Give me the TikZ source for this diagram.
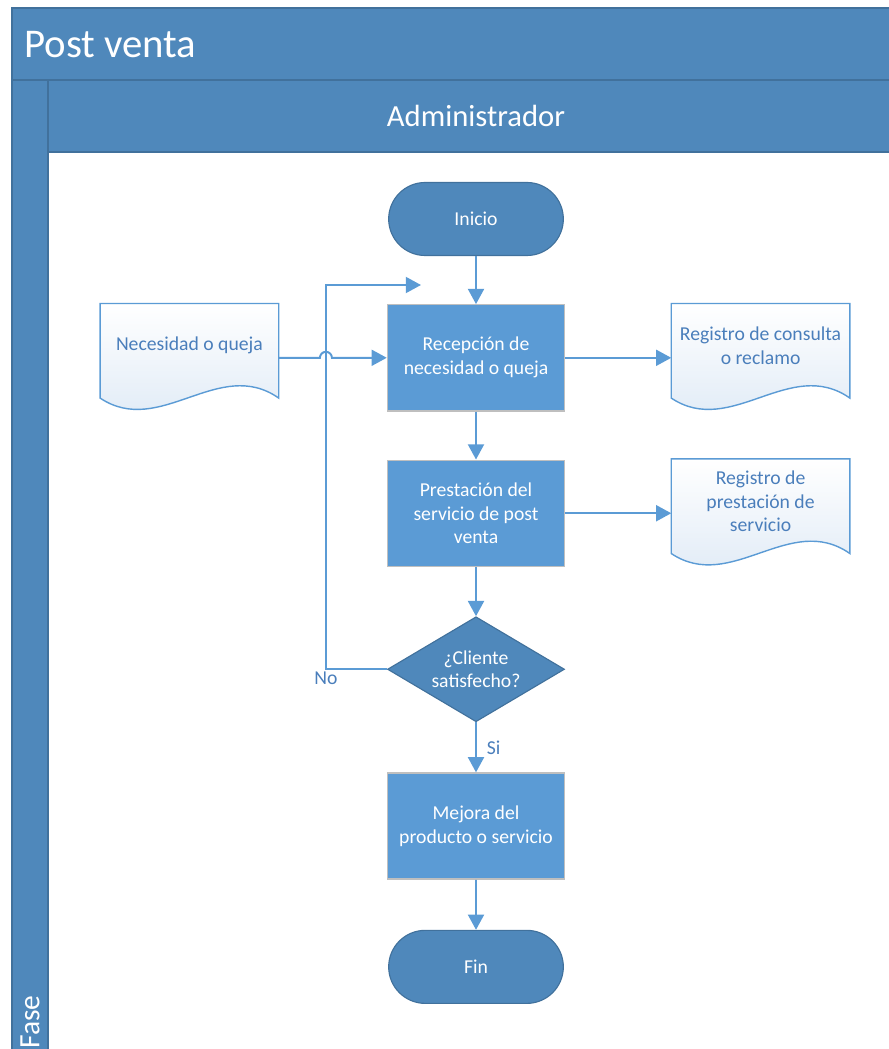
\documentclass[tikz,border=0pt]{standalone}
\usepackage{fontspec}
\setmainfont{Carlito}
\usetikzlibrary{positioning,shapes.geometric,shapes.misc,arrows.meta,calc,backgrounds}

\definecolor{lanefill}{HTML}{4F88BB}
\definecolor{laneline}{HTML}{41719C}
\definecolor{procfill}{HTML}{5B9BD5}
\definecolor{procline}{HTML}{BFBFBF}
\definecolor{flowline}{HTML}{5B9BD5}
\definecolor{doctext}{HTML}{4A7EBB}
\definecolor{docfill}{HTML}{DCE8F5}

\tikzset{
  lane/.style={fill=lanefill, draw=laneline, line width=1pt},
  body/.style={font=\fontsize{14}{17}\selectfont},
  process/.style={rectangle, body, fill=procfill, draw=procline, line width=1pt,
    text=white, minimum width=4.425cm, minimum height=2.65cm, align=center},
  terminal/.style={rounded rectangle, body, fill=lanefill, draw=laneline, line width=0.8pt,
    text=white, minimum width=4.6cm, minimum height=1.825cm},
  decision/.style={diamond, body, aspect=1.69, fill=lanefill, draw=laneline, line width=0.8pt,
    text=white, minimum width=4.425cm, minimum height=2.625cm, inner sep=0pt, align=center},
  doc/.style={rectangle, body, text=doctext, minimum width=4.45cm, minimum height=2.1cm, align=center},
  docshape/.style={draw=flowline, line width=1pt, top color=white, bottom color=docfill},
  flow/.style={draw=flowline, line width=1.4pt, -{Triangle[length=0.38cm,width=0.4cm]}},
  lbl/.style={body, text=doctext, inner sep=1pt}
}

\begin{document}
\begin{tikzpicture}[x=0.025cm, y=-0.025cm]
\useasboundingbox (0,0) rectangle (888,1049);

% swimlane
\draw[lane] (12,8) rectangle (900,80);
\draw[lane] (12,80) rectangle (48,1060);
\draw[lane] (48,80) rectangle (900,152);
\node[anchor=west, text=white, inner sep=0pt, font=\fontsize{29}{31}\selectfont] (title) at (24,45) {Post venta};
\node[text=white, font=\fontsize{21.8}{25}\selectfont] (role) at (476,116) {Administrador};
\node[rotate=90, anchor=west, text=white, inner sep=0pt, font=\fontsize{21}{24}\selectfont] (phase) at (30,1049) {Fase};

% flow
\node[terminal] (start) at (476,219) {Inicio};
\node[process, below=1.2cm of start] (recv) {Recepción de\\necesidad o queja};
\node[process, below=1.2cm of recv] (serv) {Prestación del\\servicio de post\\venta};
\node[decision, below=1.23cm of serv] (sat) {¿Cliente\\satisfecho?};
\node[process, below=1.25cm of sat] (impr) {Mejora del\\producto o servicio};
\node[terminal, below=1.25cm of impr] (stop) {Fin};

% documents
\node[doc, left=2.7cm of recv, yshift=0.3cm] (need) {Necesidad o queja};
\node[doc, right=2.65cm of recv, yshift=0.3cm] (logreq) {Registro de consulta\\o reclamo};
\node[doc, right=2.65cm of serv, yshift=0.3cm] (logserv) {Registro de\\prestación de\\servicio};

\begin{scope}[on background layer]
\foreach \d in {need,logreq,logserv}
  \draw[docshape] (\d.north west) -- (\d.north east) -- ($(\d.south east)+(0,10)$)
    .. controls ($(\d.south east)+(-60,-32)$) and ($(\d.south west)+(60,50)$) .. ($(\d.south west)+(0,10)$) -- cycle;
\end{scope}

\coordinate (loop) at ($(sat.west)+(-61,0)$);
\coordinate (back) at (421,285);

\draw[flow] (start) -- (recv);
\draw[flow] (recv) -- (serv);
\draw[flow] (serv) -- (sat);
\draw[flow] (sat) -- node[lbl, right=6pt] (yes) {Si} (impr);
\draw[flow] (impr) -- (stop);
\draw[flow] (recv) -- (logreq.west |- recv);
\draw[flow] (serv) -- (logserv.west |- serv);
\draw[flow] (need.east |- recv) -- ([xshift=-0.15cm]loop |- recv)
  arc[start angle=180, end angle=0, radius=0.15cm] -- (recv);
\draw[flow] (sat) -- (loop) node[lbl, below] (no) {No} -- (loop |- back) -- (back);
\end{tikzpicture}
\end{document}
